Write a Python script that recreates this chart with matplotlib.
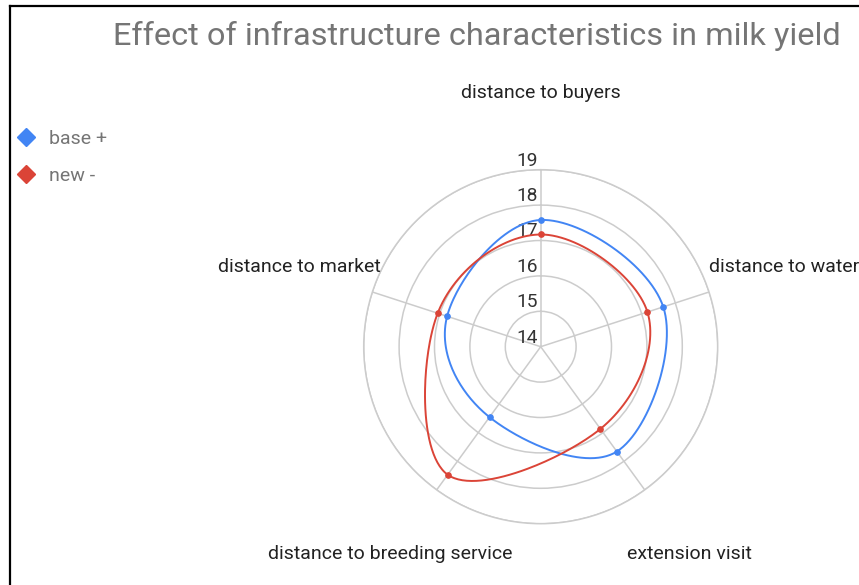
import numpy as np
import matplotlib
matplotlib.use("Agg")
import matplotlib.pyplot as plt
from matplotlib.lines import Line2D

plt.rcParams['font.family'] = ['Roboto', 'DejaVu Sans']

# ---- data ----
categories = ["distance to buyers", "distance to water", "extension visit",
              "distance to breeding service", "distance to market"]
base_plus = [17.58, 17.64, 17.66, 16.46, 16.78]
new_minus = [17.17, 17.17, 16.87, 18.47, 17.06]
series_names = ["base +", "new -"]
series_colors = ["#4285F4", "#DB4437"]
r_ticks = [14, 15, 16, 17, 18, 19]
r_min, r_max = 14, 19

W, H = 859, 585
fig = plt.figure(figsize=(W / 100, H / 100), dpi=100)

cx, cy, R = 540.7, 346.7, 177.0
ax = fig.add_axes([(cx - R) / W, (H - cy - R) / H, 2 * R / W, 2 * R / H], projection='polar')
ax.set_theta_zero_location('N')
ax.set_theta_direction(-1)
n = len(categories)
angles = np.arange(n) * 2 * np.pi / n
ax.set_ylim(r_min, r_max)
ax.set_xticks(angles)
ax.set_xticklabels([])
ax.set_yticks(r_ticks[1:])
ax.set_yticklabels([])
ax.grid(True, color='#cccccc', linewidth=1.1)
ax.spines['polar'].set_color('#cccccc')
ax.spines['polar'].set_linewidth(1.1)
ax.set_facecolor('white')


def smooth_closed(values, steps=60, k=0.55):
    rr = np.asarray(values) - r_min
    x = rr * np.sin(angles)
    y = rr * np.cos(angles)
    pts = np.column_stack([x, y])
    out = []
    m = len(pts)
    t = np.linspace(0, 1, steps, endpoint=False)[:, None]
    h00 = 2 * t ** 3 - 3 * t ** 2 + 1
    h10 = t ** 3 - 2 * t ** 2 + t
    h01 = -2 * t ** 3 + 3 * t ** 2
    h11 = t ** 3 - t ** 2
    for i in range(m):
        p0, p1, p2, p3 = pts[(i - 1) % m], pts[i], pts[(i + 1) % m], pts[(i + 2) % m]
        m1 = k * (p2 - p0)
        m2 = k * (p3 - p1)
        out.append(h00 * p1 + h10 * m1 + h01 * p2 + h11 * m2)
    out.append(pts[:1])
    out = np.vstack(out)
    th = np.unwrap(np.arctan2(out[:, 0], out[:, 1]))
    r = np.hypot(out[:, 0], out[:, 1]) + r_min
    return th, r


for vals, name, col in zip([base_plus, new_minus], series_names, series_colors):
    th, r = smooth_closed(vals)
    ax.plot(th, r, color=col, linewidth=1.4, zorder=3)
    ax.plot(angles, vals, linestyle='none', marker='o', markersize=3.8, color=col, zorder=4)

# radial tick labels
for v in r_ticks:
    ax.annotate(str(v), xy=(0, v), xytext=(-3, 4), textcoords='offset pixels',
                ha='right', va='baseline', fontsize=13.8, color='#333333',
                annotation_clip=False, zorder=2)

# category labels
offsets = [(0, 77, 'center'), (0, 25, 'left'), (45, -64, 'center'),
           (-46, -64, 'center'), (8, 25, 'right')]
for a, lab, (dx, dy, ha) in zip(angles, categories, offsets):
    ax.annotate(lab, xy=(a, r_max), xytext=(dx, dy), textcoords='offset pixels',
                ha=ha, va='center', fontsize=14, color='#222222', annotation_clip=False)

# title
fig.text(113 / W, 1 - 36 / H, "Effect of infrastructure characteristics in milk yield",
         ha='left', va='center', fontsize=23.4, color='#757575')

# legend
handles = [Line2D([], [], linestyle='none', marker='D', markersize=9.5, color=c)
           for c in series_colors]
leg = fig.legend(handles, series_names, loc='upper left',
                 bbox_to_anchor=(16.5 / W, 1 - 129.5 / H), frameon=False,
                 fontsize=14, handlelength=1.0, handletextpad=0.65,
                 labelspacing=1.0, borderpad=0, borderaxespad=0)
for t in leg.get_texts():
    t.set_color('#757575')

# frame lines
fig.add_artist(Line2D([10 / W, 1], [1 - 5.5 / H, 1 - 5.5 / H], color='black',
                      linewidth=1.6, transform=fig.transFigure))
fig.add_artist(Line2D([10 / W, 10 / W], [0, 1 - 5.5 / H], color='black',
                      linewidth=1.6, transform=fig.transFigure))

fig.savefig("out.png", dpi=100, facecolor='white')
